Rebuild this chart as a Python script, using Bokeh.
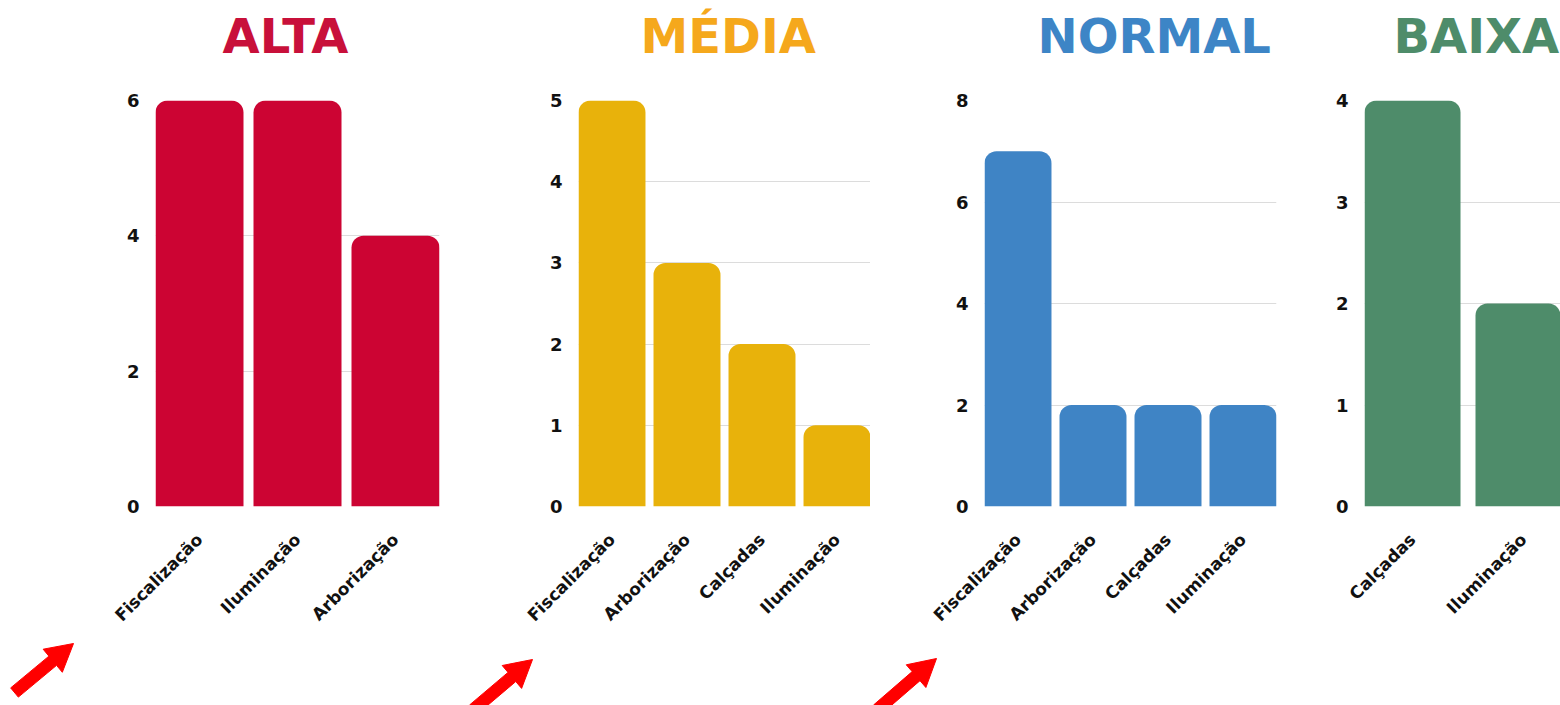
import math
from bokeh.plotting import figure
from bokeh.layouts import row, column
from bokeh.models import Range1d, FixedTicker, Title
from bokeh.embed import file_html
from bokeh.resources import INLINE

# ---- data ----
alta_cats = ["Fiscalização", "Iluminação", "Arborização"]
alta_vals = [6, 6, 4]
alta_ticks = [0, 2, 4, 6]

media_cats = ["Fiscalização", "Arborização", "Calçadas", "Iluminação"]
media_vals = [5, 3, 2, 1]
media_ticks = [0, 1, 2, 3, 4, 5]

normal_cats = ["Fiscalização", "Arborização", "Calçadas", "Iluminação"]
normal_vals = [7, 2, 2, 2]
normal_ticks = [0, 2, 4, 6, 8]

baixa_cats = ["Calçadas", "Iluminação"]
baixa_vals = [4, 2]
baixa_ticks = [0, 1, 2, 3, 4]

FONT = "DejaVu Sans"
W, H = 1560, 705
FRAME_H = 406
TOP = 100
STRIP_Y = 632           # where the arrow strip starts
BOTTOM = STRIP_Y - TOP - FRAME_H


def arrow_poly(tail, tip, shaft=6.0, head_len=27.0, head_half=15.0):
    tx, ty = tail
    px, py = tip
    dx, dy = px - tx, py - ty
    L = math.hypot(dx, dy)
    ux, uy = dx / L, dy / L
    nx, ny = -uy, ux
    bx, by = px - ux * head_len, py - uy * head_len
    pts = [
        (tx + nx * shaft, ty + ny * shaft),
        (bx + nx * shaft, by + ny * shaft),
        (bx + nx * head_half, by + ny * head_half),
        (px, py),
        (bx - nx * head_half, by - ny * head_half),
        (bx - nx * shaft, by - ny * shaft),
        (tx - nx * shaft, ty - ny * shaft),
    ]
    return [q[0] for q in pts], [q[1] for q in pts]


def panel(title, cats, vals, ticks, tcolor, bcolor, left, frame_w, right,
          bar_frac, title_offset, x_end=None):
    n = len(cats)
    xs = list(range(n))
    x0 = -bar_frac / 2
    x1 = x_end if x_end is not None else n - 1 + bar_frac / 2
    p = figure(frame_width=frame_w, frame_height=FRAME_H,
               min_border_left=left, min_border_right=right,
               min_border_top=TOP, min_border_bottom=BOTTOM,
               x_range=Range1d(x0, x1), y_range=Range1d(0, ticks[-1]),
               output_backend="svg", toolbar_location=None,
               background_fill_color="white", border_fill_color="white")
    p.outline_line_color = None
    p.vbar(x=xs, top=vals, width=bar_frac, bottom=0, fill_color=bcolor,
           line_color=None, border_radius=(12, 12, 0, 0))

    # y axis
    p.yaxis.ticker = FixedTicker(ticks=ticks)
    p.yaxis.axis_line_color = None
    p.yaxis.major_tick_line_color = None
    p.yaxis.minor_tick_line_color = None
    p.yaxis.major_tick_out = 0
    p.yaxis.major_label_standoff = 16
    p.yaxis.major_label_text_font = FONT
    p.yaxis.major_label_text_font_style = "bold"
    p.yaxis.major_label_text_font_size = "18px"
    p.yaxis.major_label_text_color = "#111111"

    # x axis
    p.xaxis.ticker = FixedTicker(ticks=xs)
    p.xaxis.major_label_overrides = {i: c for i, c in zip(xs, cats)}
    p.xaxis.major_label_orientation = math.pi / 4
    p.xaxis.axis_line_color = None
    p.xaxis.major_tick_line_color = None
    p.xaxis.minor_tick_line_color = None
    p.xaxis.major_tick_out = 0
    p.xaxis.major_label_standoff = 30
    p.xaxis.major_label_text_font = FONT
    p.xaxis.major_label_text_font_style = "bold"
    p.xaxis.major_label_text_font_size = "17px"
    p.xaxis.major_label_text_color = "#111111"

    p.xgrid.visible = False
    p.ygrid.ticker = FixedTicker(ticks=ticks)
    p.ygrid.grid_line_color = "#dcdcdc"
    p.ygrid.grid_line_width = 1

    # spacer between title and frame, then the title
    p.add_layout(Title(text=" ", text_font_size="18px"), "above")
    p.add_layout(Title(text=title, align="left", offset=title_offset,
                       text_font=FONT, text_font_style="bold",
                       text_font_size="48px", text_color=tcolor), "above")
    return p


p1 = panel("ALTA", alta_cats, alta_vals, alta_ticks, "#C8103A", "#CC0433",
           155, 284, 21, 0.898, 67)
p2 = panel("MÉDIA", media_cats, media_vals, media_ticks, "#F5A81C", "#E8B20B",
           118, 292, 0, 0.893, 62)
p3 = panel("NORMAL", normal_cats, normal_vals, normal_ticks, "#3D85C6", "#3F84C5",
           114, 292, 24, 0.893, 53)
p4 = panel("BAIXA", baixa_cats, baixa_vals, baixa_ticks, "#4E8C6A", "#4E8C6A",
           64, 196, 0, 0.865, 29, x_end=-0.4325 + 196 / 111)

# strip under the charts holding the red pointer arrows (pixel space)
strip = figure(frame_width=W, frame_height=H - STRIP_Y,
               x_range=Range1d(0, W), y_range=Range1d(H, STRIP_Y),
               min_border=0, output_backend="svg", toolbar_location=None,
               background_fill_color="white", border_fill_color="white")
strip.axis.visible = False
strip.grid.visible = False
strip.outline_line_color = None
arrows = [((14, 689), (73, 640)), ((473, 706), (532, 656)), ((877, 706), (936, 655))]
axs, ays = [], []
for tail, tip in arrows:
    a, b = arrow_poly(tail, tip)
    axs.append(a)
    ays.append(b)
strip.patches(xs=axs, ys=ays, fill_color="#ff0000", line_color="#ff0000",
              line_width=1)

layout = column(row(p1, p2, p3, p4, spacing=0), strip, spacing=0)
open("out.html", "w").write(file_html(layout, INLINE))
